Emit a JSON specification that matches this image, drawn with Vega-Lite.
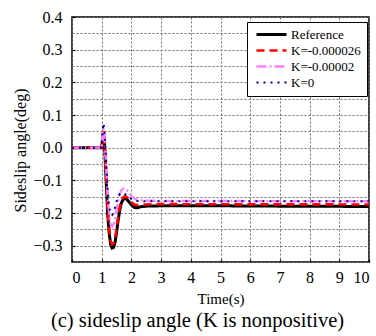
{
  "$schema": "https://vega.github.io/schema/vega-lite/v6.json",
  "width": 297,
  "height": 245,
  "autosize": "none",
  "padding": {"left": 72, "top": 17, "right": 7, "bottom": 74},
  "background": "white",
  "config": {
    "font": "Liberation Serif",
    "view": {"stroke": "black", "strokeWidth": 1.5},
    "axis": {
      "labelFont": "Liberation Serif",
      "titleFont": "Liberation Serif",
      "labelFontSize": 16,
      "titleFontSize": 16,
      "titleFontWeight": "normal",
      "labelColor": "black",
      "titleColor": "black",
      "domain": false,
      "grid": true,
      "tickColor": "black",
      "tickWidth": 1.2,
      "gridDash": [2, 2],
      "gridWidth": 1,
      "gridOpacity": 1
    }
  },
  "title": {
    "text": "(c) sideslip angle (K is nonpositive)",
    "orient": "bottom",
    "anchor": "middle",
    "font": "Liberation Serif",
    "fontSize": 20.5,
    "fontWeight": "normal",
    "color": "black",
    "offset": 5,
    "dx": -23
  },
  "data": {
    "values": [
      {"t": 0, "v": 0, "s": "Reference"},
      {"t": 0.5, "v": 0, "s": "Reference"},
      {"t": 1.0, "v": 0, "s": "Reference"},
      {"t": 1.03, "v": 0.03, "s": "Reference"},
      {"t": 1.06, "v": 0.045, "s": "Reference"},
      {"t": 1.09, "v": 0.02, "s": "Reference"},
      {"t": 1.12, "v": -0.04, "s": "Reference"},
      {"t": 1.16, "v": -0.12, "s": "Reference"},
      {"t": 1.2, "v": -0.2, "s": "Reference"},
      {"t": 1.25, "v": -0.26, "s": "Reference"},
      {"t": 1.3, "v": -0.295, "s": "Reference"},
      {"t": 1.35, "v": -0.307, "s": "Reference"},
      {"t": 1.4, "v": -0.305, "s": "Reference"},
      {"t": 1.45, "v": -0.29, "s": "Reference"},
      {"t": 1.5, "v": -0.26, "s": "Reference"},
      {"t": 1.55, "v": -0.225, "s": "Reference"},
      {"t": 1.6, "v": -0.195, "s": "Reference"},
      {"t": 1.65, "v": -0.173, "s": "Reference"},
      {"t": 1.7, "v": -0.162, "s": "Reference"},
      {"t": 1.75, "v": -0.156, "s": "Reference"},
      {"t": 1.8, "v": -0.155, "s": "Reference"},
      {"t": 1.85, "v": -0.158, "s": "Reference"},
      {"t": 1.9, "v": -0.164, "s": "Reference"},
      {"t": 2.0, "v": -0.175, "s": "Reference"},
      {"t": 2.1, "v": -0.183, "s": "Reference"},
      {"t": 2.2, "v": -0.184, "s": "Reference"},
      {"t": 2.3, "v": -0.181, "s": "Reference"},
      {"t": 2.5, "v": -0.179, "s": "Reference"},
      {"t": 3, "v": -0.178, "s": "Reference"},
      {"t": 5, "v": -0.178, "s": "Reference"},
      {"t": 7, "v": -0.179, "s": "Reference"},
      {"t": 10, "v": -0.18, "s": "Reference"},

      {"t": 0, "v": 0, "s": "K=-0.000026"},
      {"t": 1.0, "v": 0, "s": "K=-0.000026"},
      {"t": 1.03, "v": 0.035, "s": "K=-0.000026"},
      {"t": 1.06, "v": 0.052, "s": "K=-0.000026"},
      {"t": 1.09, "v": 0.03, "s": "K=-0.000026"},
      {"t": 1.12, "v": -0.03, "s": "K=-0.000026"},
      {"t": 1.16, "v": -0.11, "s": "K=-0.000026"},
      {"t": 1.2, "v": -0.19, "s": "K=-0.000026"},
      {"t": 1.25, "v": -0.25, "s": "K=-0.000026"},
      {"t": 1.3, "v": -0.285, "s": "K=-0.000026"},
      {"t": 1.35, "v": -0.296, "s": "K=-0.000026"},
      {"t": 1.4, "v": -0.293, "s": "K=-0.000026"},
      {"t": 1.45, "v": -0.278, "s": "K=-0.000026"},
      {"t": 1.5, "v": -0.25, "s": "K=-0.000026"},
      {"t": 1.55, "v": -0.215, "s": "K=-0.000026"},
      {"t": 1.6, "v": -0.185, "s": "K=-0.000026"},
      {"t": 1.65, "v": -0.165, "s": "K=-0.000026"},
      {"t": 1.7, "v": -0.155, "s": "K=-0.000026"},
      {"t": 1.75, "v": -0.15, "s": "K=-0.000026"},
      {"t": 1.8, "v": -0.149, "s": "K=-0.000026"},
      {"t": 1.85, "v": -0.152, "s": "K=-0.000026"},
      {"t": 1.9, "v": -0.158, "s": "K=-0.000026"},
      {"t": 2.0, "v": -0.167, "s": "K=-0.000026"},
      {"t": 2.1, "v": -0.174, "s": "K=-0.000026"},
      {"t": 2.2, "v": -0.176, "s": "K=-0.000026"},
      {"t": 2.3, "v": -0.175, "s": "K=-0.000026"},
      {"t": 2.5, "v": -0.174, "s": "K=-0.000026"},
      {"t": 3, "v": -0.173, "s": "K=-0.000026"},
      {"t": 10, "v": -0.174, "s": "K=-0.000026"},

      {"t": 0, "v": 0, "s": "K=-0.00002"},
      {"t": 1.0, "v": 0, "s": "K=-0.00002"},
      {"t": 1.03, "v": 0.04, "s": "K=-0.00002"},
      {"t": 1.06, "v": 0.06, "s": "K=-0.00002"},
      {"t": 1.09, "v": 0.04, "s": "K=-0.00002"},
      {"t": 1.12, "v": -0.01, "s": "K=-0.00002"},
      {"t": 1.16, "v": -0.08, "s": "K=-0.00002"},
      {"t": 1.2, "v": -0.15, "s": "K=-0.00002"},
      {"t": 1.25, "v": -0.205, "s": "K=-0.00002"},
      {"t": 1.3, "v": -0.235, "s": "K=-0.00002"},
      {"t": 1.35, "v": -0.242, "s": "K=-0.00002"},
      {"t": 1.4, "v": -0.235, "s": "K=-0.00002"},
      {"t": 1.45, "v": -0.215, "s": "K=-0.00002"},
      {"t": 1.5, "v": -0.19, "s": "K=-0.00002"},
      {"t": 1.55, "v": -0.165, "s": "K=-0.00002"},
      {"t": 1.6, "v": -0.145, "s": "K=-0.00002"},
      {"t": 1.65, "v": -0.133, "s": "K=-0.00002"},
      {"t": 1.7, "v": -0.127, "s": "K=-0.00002"},
      {"t": 1.75, "v": -0.125, "s": "K=-0.00002"},
      {"t": 1.8, "v": -0.126, "s": "K=-0.00002"},
      {"t": 1.85, "v": -0.13, "s": "K=-0.00002"},
      {"t": 1.9, "v": -0.137, "s": "K=-0.00002"},
      {"t": 2.0, "v": -0.148, "s": "K=-0.00002"},
      {"t": 2.1, "v": -0.156, "s": "K=-0.00002"},
      {"t": 2.2, "v": -0.16, "s": "K=-0.00002"},
      {"t": 2.3, "v": -0.161, "s": "K=-0.00002"},
      {"t": 2.5, "v": -0.162, "s": "K=-0.00002"},
      {"t": 3, "v": -0.163, "s": "K=-0.00002"},
      {"t": 10, "v": -0.164, "s": "K=-0.00002"},

      {"t": 0, "v": 0, "s": "K=0"},
      {"t": 1.0, "v": 0, "s": "K=0"},
      {"t": 1.03, "v": 0.05, "s": "K=0"},
      {"t": 1.06, "v": 0.075, "s": "K=0"},
      {"t": 1.09, "v": 0.055, "s": "K=0"},
      {"t": 1.12, "v": 0.01, "s": "K=0"},
      {"t": 1.16, "v": -0.06, "s": "K=0"},
      {"t": 1.2, "v": -0.13, "s": "K=0"},
      {"t": 1.25, "v": -0.18, "s": "K=0"},
      {"t": 1.3, "v": -0.203, "s": "K=0"},
      {"t": 1.35, "v": -0.206, "s": "K=0"},
      {"t": 1.4, "v": -0.198, "s": "K=0"},
      {"t": 1.45, "v": -0.182, "s": "K=0"},
      {"t": 1.5, "v": -0.165, "s": "K=0"},
      {"t": 1.55, "v": -0.152, "s": "K=0"},
      {"t": 1.6, "v": -0.143, "s": "K=0"},
      {"t": 1.65, "v": -0.139, "s": "K=0"},
      {"t": 1.7, "v": -0.138, "s": "K=0"},
      {"t": 1.75, "v": -0.14, "s": "K=0"},
      {"t": 1.8, "v": -0.143, "s": "K=0"},
      {"t": 1.9, "v": -0.151, "s": "K=0"},
      {"t": 2.0, "v": -0.157, "s": "K=0"},
      {"t": 2.1, "v": -0.161, "s": "K=0"},
      {"t": 2.2, "v": -0.163, "s": "K=0"},
      {"t": 2.3, "v": -0.164, "s": "K=0"},
      {"t": 3, "v": -0.164, "s": "K=0"},
      {"t": 10, "v": -0.164, "s": "K=0"}
    ]
  },
  "mark": {"type": "line", "clip": true},
  "encoding": {
    "x": {
      "field": "t",
      "type": "quantitative",
      "scale": {"domain": [0, 10], "nice": false, "zero": false},
      "axis": {
        "title": "Time(s)",
        "grid": true,
        "gridColor": "#707070",
        "values": [0, 1, 2, 3, 4, 5, 6, 7, 8, 9, 10],
        "format": "d",
        "tickSize": -3,
        "labelPadding": 10,
        "titlePadding": 6,
        "titleFontSize": 15
      }
    },
    "y": {
      "field": "v",
      "type": "quantitative",
      "scale": {"domain": [-0.35, 0.4], "nice": false, "zero": false},
      "axis": {
        "title": "Sideslip angle(deg)",
        "grid": true,
        "gridColor": "#707070",
        "values": [-0.35, -0.3, -0.25, -0.2, -0.15, -0.1, -0.05, 0, 0.05, 0.1, 0.15, 0.2, 0.25, 0.3, 0.35, 0.4],
        "labelExpr": "abs(round(datum.value*100)) % 10 == 0 ? format(datum.value, '.1f') : ''",
        "tickSize": -3,
        "tickOpacity": {"condition": {"test": "abs(round(datum.value*100)) % 10 == 0", "value": 1}, "value": 0},
        "labelPadding": 13,
        "titlePadding": 4,
        "titleY": 133
      }
    },
    "color": {
      "field": "s",
      "type": "nominal",
      "scale": {
        "domain": ["Reference", "K=-0.000026", "K=-0.00002", "K=0"],
        "range": ["#000000", "#ff0000", "#ff80ff", "#000099"]
      },
      "legend": {
        "title": null,
        "orient": "none",
        "legendX": 175,
        "legendY": 5,
        "fillColor": "white",
        "strokeColor": "black",
        "padding": 6,
        "labelFont": "Liberation Serif",
        "labelFontSize": 13,
        "labelFontWeight": "normal",
        "labelColor": "black",
        "labelOffset": 25,
        "symbolType": "M-0.6,0H5.4",
        "symbolSize": 100,
        "symbolStrokeWidth": 2,
        "rowPadding": 2
      }
    },
    "strokeDash": {
      "field": "s",
      "type": "nominal",
      "scale": {
        "domain": ["Reference", "K=-0.000026", "K=-0.00002", "K=0"],
        "range": [[1, 0], [8, 5], [10, 3, 2, 3], [2, 5]]
      },
      "legend": null
    },
    "strokeWidth": {
      "field": "s",
      "type": "nominal",
      "scale": {
        "domain": ["Reference", "K=-0.000026", "K=-0.00002", "K=0"],
        "range": [3, 2, 1.5, 2]
      },
      "legend": null
    }
  }
}
